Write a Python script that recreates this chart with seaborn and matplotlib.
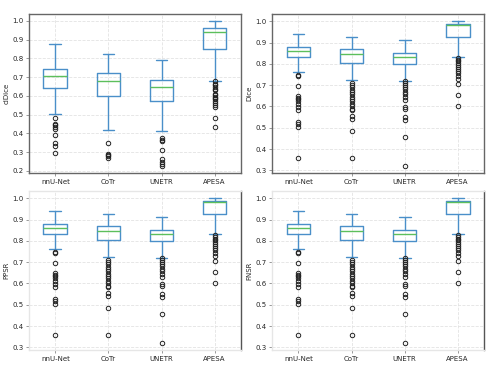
import matplotlib
matplotlib.use("Agg")
import matplotlib.pyplot as plt
from matplotlib.ticker import MultipleLocator, FormatStrFormatter
import seaborn as sns

sns.set_style("whitegrid", {
    "grid.linestyle": "--",
    "grid.color": "#e3e3e3",
    "xtick.bottom": True,
    "ytick.left": True,
})
plt.rcParams["font.family"] = ["DejaVu Sans"]
plt.rcParams["font.size"] = 5

methods = ["nnU-Net", "CoTr", "UNETR", "APESA"]

# clDice box statistics
cldice_whislo = [0.504, 0.421, 0.415, 0.680]
cldice_q1 = [0.641, 0.599, 0.574, 0.850]
cldice_med = [0.707, 0.680, 0.647, 0.940]
cldice_q3 = [0.742, 0.724, 0.686, 0.963]
cldice_whishi = [0.878, 0.823, 0.792, 0.998]
cldice_fliers = [
    [0.483, 0.448, 0.444, 0.435, 0.426, 0.391, 0.348, 0.331, 0.295],
    [0.350, 0.292, 0.285, 0.281, 0.267],
    [0.377, 0.366, 0.359, 0.313, 0.264, 0.249, 0.237, 0.228],
    [0.677, 0.666, 0.656, 0.645, 0.638, 0.631, 0.610, 0.603, 0.594, 0.588,
     0.581, 0.573, 0.560, 0.550, 0.541, 0.483, 0.435],
]

# Dice box statistics (same distribution in the lower two panels)
dice_whislo = [0.761, 0.723, 0.721, 0.834]
dice_q1 = [0.834, 0.806, 0.800, 0.925]
dice_med = [0.858, 0.847, 0.831, 0.981]
dice_q3 = [0.881, 0.870, 0.850, 0.986]
dice_whishi = [0.942, 0.926, 0.912, 1.000]
dice_fliers = [
    [0.750, 0.743, 0.698, 0.649, 0.642, 0.634, 0.626, 0.610, 0.599, 0.584,
     0.527, 0.518, 0.504, 0.358],
    [0.709, 0.701, 0.690, 0.678, 0.668, 0.657, 0.646, 0.637, 0.624, 0.612,
     0.603, 0.590, 0.584, 0.556, 0.543, 0.487, 0.358],
    [0.718, 0.709, 0.700, 0.690, 0.681, 0.670, 0.659, 0.646, 0.631, 0.596,
     0.587, 0.552, 0.537, 0.458, 0.322],
    [0.826, 0.818, 0.811, 0.803, 0.793, 0.784, 0.775, 0.765, 0.756, 0.743,
     0.731, 0.706, 0.656, 0.603],
]

panels = [
    ("clDice", cldice_whislo, cldice_q1, cldice_med, cldice_q3, cldice_whishi, cldice_fliers),
    ("Dice", dice_whislo, dice_q1, dice_med, dice_q3, dice_whishi, dice_fliers),
    ("PPSR", dice_whislo, dice_q1, dice_med, dice_q3, dice_whishi, dice_fliers),
    ("FNSR", dice_whislo, dice_q1, dice_med, dice_q3, dice_whishi, dice_fliers),
]

axes_rects = [
    [0.059, 0.530, 0.433, 0.432],
    [0.555, 0.530, 0.433, 0.432],
    [0.059, 0.049, 0.433, 0.432],
    [0.555, 0.049, 0.433, 0.432],
]

box_color = "#4a8fc9"
median_color = "#5cbf5c"

fig = plt.figure(figsize=(4.9, 3.68), dpi=100)

for i, (name, lo, q1, med, q3, hi, fl) in enumerate(panels):
    ax = fig.add_axes(axes_rects[i])
    stats = [
        {"label": m, "whislo": lo[j], "q1": q1[j], "med": med[j],
         "q3": q3[j], "whishi": hi[j], "fliers": fl[j]}
        for j, m in enumerate(methods)
    ]
    ax.bxp(
        stats,
        positions=range(1, len(methods) + 1),
        widths=0.45,
        boxprops=dict(color=box_color, linewidth=1.0),
        whiskerprops=dict(color=box_color, linewidth=1.0),
        capprops=dict(color=box_color, linewidth=1.0),
        medianprops=dict(color=median_color, linewidth=1.0),
        flierprops=dict(marker="o", markerfacecolor="none",
                        markeredgecolor="#222222", markersize=3.2,
                        markeredgewidth=0.7),
    )
    ax.set_xlim(0.5, 4.5)
    ax.yaxis.set_major_locator(MultipleLocator(0.1))
    ax.yaxis.set_major_formatter(FormatStrFormatter("%.1f"))
    ax.set_ylabel(name, fontsize=5, labelpad=2)
    ax.tick_params(axis="both", labelsize=5, length=2, width=0.6,
                   color="#888888", pad=2)
    ax.grid(True, linestyle="--", color="#e3e3e3", linewidth=0.6)
    for side in ["left", "right", "top", "bottom"]:
        ax.spines[side].set_linewidth(1.0)
    if i < 2:
        for side in ["left", "right", "top", "bottom"]:
            ax.spines[side].set_color("#666666")
    else:
        for side in ["left", "top", "bottom"]:
            ax.spines[side].set_color("#e6e6e6")
        ax.spines["right"].set_color("#555555")

fig.savefig("out.png", dpi=100)
